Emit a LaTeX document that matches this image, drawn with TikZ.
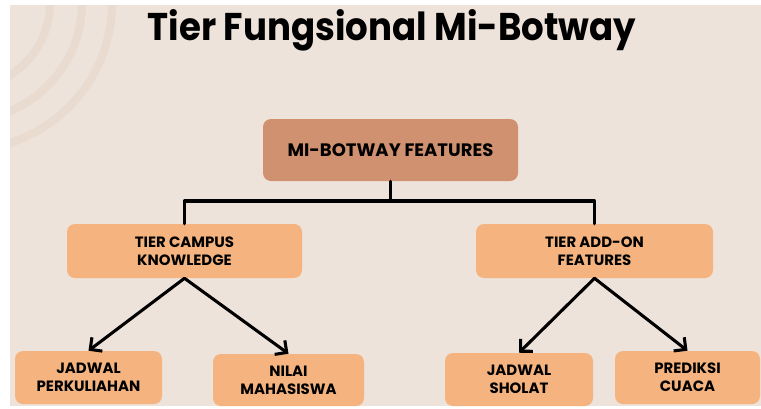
\documentclass[tikz,border=0pt]{standalone}
\usepackage{fontspec}
\setmainfont{Poppins}
\usetikzlibrary{arrows.meta}
\definecolor{bgbeige}{RGB}{238,227,218}
\definecolor{arcbeige}{RGB}{233,219,207}
\definecolor{rootfill}{RGB}{207,145,111}
\definecolor{tierfill}{RGB}{245,180,127}
\begin{document}
\begin{tikzpicture}[x=0.75pt,y=-0.75pt,
  box/.style={rounded corners=6pt, align=center, inner sep=0pt,
    font=\bfseries\fontsize{11.2}{13.5}\selectfont},
  rootbox/.style={box, fill=rootfill, font=\bfseries\fontsize{13.5}{15}\selectfont},
  tierbox/.style={box, fill=tierfill},
  link/.style={line width=2.3pt, line cap=round, line join=round},
  arrowlink/.style={link, -{Straight Barb[length=6.5pt,width=13pt,line width=2.3pt]}}]
  % canvas
  \useasboundingbox (0,0) rectangle (761,408);
  \fill[white] (0,0) rectangle (761,408);
  \fill[bgbeige] (10,5) rectangle (761,406);
  % decorative rings in the corner
  \begin{scope}
    \clip (10,5) rectangle (761,406);
    \foreach \r in {85,117,147}
      \draw[arcbeige, line width=6pt] (-35,3) circle [radius=\r];
  \end{scope}
  % title
  \node[font=\bfseries\fontsize{29}{34}\selectfont] (title) at (392,30) {\scalebox{0.92}[1]{Tier Fungsional Mi-Botway}};
  % boxes
  \node[rootbox, minimum width=191.25pt, minimum height=46.5pt] (root) at (390.5,150) {MI-BOTWAY FEATURES};
  \node[tierbox, minimum width=176.25pt, minimum height=40.5pt] (tierL) at (184.5,251) {TIER CAMPUS\\KNOWLEDGE};
  \node[tierbox, minimum width=177.75pt, minimum height=40.5pt] (tierR) at (594.5,251) {TIER ADD-ON\\FEATURES};
  \node[tierbox, minimum width=110.25pt, minimum height=39.75pt] (jp) at (88.5,377.5) {JADWAL\\PERKULIAHAN};
  \node[tierbox, minimum width=113.25pt, minimum height=39pt] (nm) at (288.5,380) {NILAI\\MAHASISWA};
  \node[tierbox, minimum width=111pt, minimum height=39.75pt] (js) at (519,379.5) {JADWAL\\SHOLAT};
  \node[tierbox, minimum width=108.75pt, minimum height=39.75pt] (pc) at (687.5,377.5) {PREDIKSI\\CUACA};
  % tree connectors
  \coordinate (split) at (390.5,201);
  \draw[link] (root.south) -- (split);
  \draw[link] (split) -| (tierL.north);
  \draw[link] (split) -| (tierR.north);
  % arrows to the leaves
  \draw[arrowlink] (tierL.south) -- (jp.north);
  \draw[arrowlink] (tierL.south) -- (nm.north);
  \draw[arrowlink] (tierR.south) -- (js.north);
  \draw[arrowlink] (tierR.south) -- (pc.north);
\end{tikzpicture}
\end{document}
